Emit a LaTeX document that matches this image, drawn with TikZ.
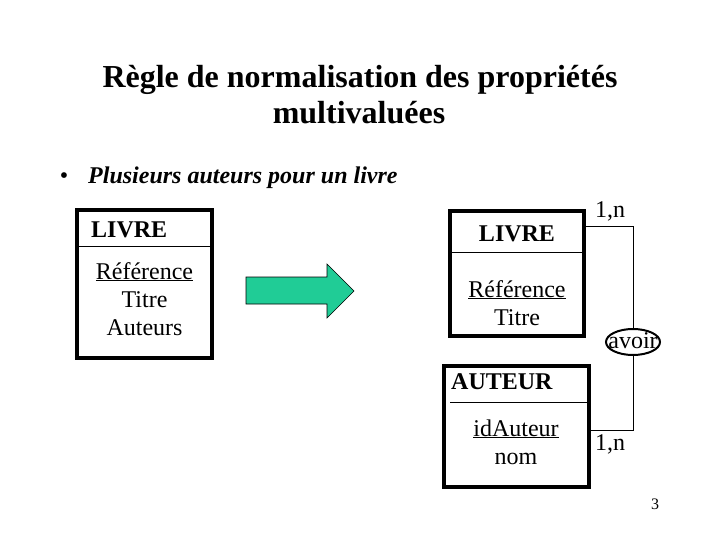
\documentclass[tikz,border=0pt]{standalone}
\usepackage{fontspec}
\setmainfont{Liberation Serif}
\usetikzlibrary{shapes.geometric,positioning}

\definecolor{arrowgreen}{RGB}{32,204,150}

\begin{document}
\begin{tikzpicture}[x=1pt,y=-1pt,
  entity/.style={draw, line width=3.2pt, inner sep=0pt},
  title/.style={font=\fontsize{32}{37}\selectfont\bfseries, anchor=base},
  txt/.style={font=\fontsize{24}{28}\selectfont, anchor=base, inner sep=0pt},
  head/.style={txt, font=\fontsize{24}{28}\selectfont\bfseries},
  link/.style={draw, line width=0.8pt}
]
\useasboundingbox (0,0) rectangle (720,540);

% title
\node[title] (t1) at (360,88) {Règle de normalisation des propriétés};
\node[title] (t2) at (359,124) {multivaluées};
\node[txt] (bul) at (64,184) {\textbullet};
\node[txt, anchor=base west, font=\fontsize{24}{28}\selectfont\bfseries\itshape] (sub) at (88,184) {Plusieurs auteurs pour un livre};

% left entity
\node[entity, minimum width=135pt, minimum height=148pt] (livreA) at (144.5,284) {};
\draw[thin] (77,246) -- (212,246);
\node[head, anchor=base west] (livreAh) at (91,237) {LIVRE};
\node[txt] (refA) at (144.5,279) {\underline{Référence}};
\node[txt] (titA) at (144.5,307) {Titre};
\node[txt] (autA) at (144.5,335) {Auteurs};

% transformation arrow
\draw[fill=arrowgreen, line width=0.6pt] (246,277) -- (327,277) -- (327,264) -- (354,291)
  -- (327,318) -- (327,304) -- (246,304) -- cycle;

% right entity LIVRE
\node[entity, minimum width=134pt, minimum height=125pt] (livreB) at (517,273.5) {};
\draw[thin] (450,252) -- (584,252);
\node[head] (livreBh) at (517,241) {LIVRE};
\node[txt] (refB) at (517,297) {\underline{Référence}};
\node[txt] (titB) at (517,325) {Titre};

% entity AUTEUR
\node[entity, minimum width=145pt, minimum height=121pt] (auteur) at (516.5,426.5) {};
\draw[thin] (450,402) -- (587,402);
\node[head, anchor=base west] (auteurh) at (451,389) {AUTEUR};
\node[txt] (idA) at (516,436) {\underline{idAuteur}};
\node[txt] (nom) at (516,464) {nom};

% association
\node[draw, ellipse, line width=2pt, minimum width=54pt, minimum height=26pt, inner sep=0pt] (avoir) at (633,342) {};
\node[txt] at (avoir.center) [yshift=-6.5pt] {avoir};
\draw[link] ([yshift=-17pt]livreB.north east) -| (avoir.north);
\draw[link] (avoir.south) |- ([yshift=-66pt]auteur.north east);
\node[txt, anchor=base west] (cardB) at (595,218) {1,n};
\node[txt, anchor=base west] (cardA) at (595,450) {1,n};

\node[font=\fontsize{16}{18}\selectfont, anchor=base] (page) at (655,509) {3};
\end{tikzpicture}
\end{document}
